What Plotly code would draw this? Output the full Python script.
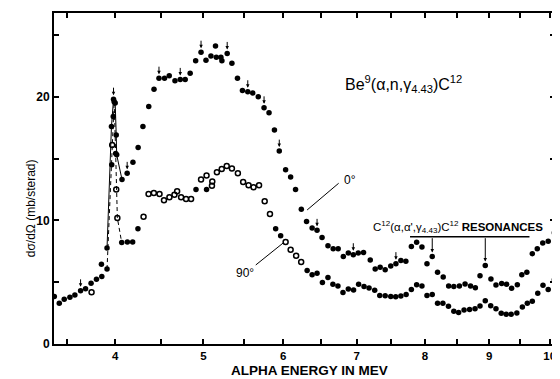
import numpy as np
import plotly.graph_objects as go

# ---------------- data (alpha energy in MeV, cross section in mb/sterad) ----------------
# 0 degree series (filled circles)
e0 = [3.375, 3.424, 3.473, 3.530, 3.580, 3.638, 3.689, 3.746, 3.802, 3.854,
      3.913, 3.960, 3.982, 4.000, 4.011, 4.016, 4.073, 4.129, 4.192, 4.249,
      4.302, 4.367, 4.426, 4.482, 4.545, 4.599, 4.665, 4.726, 4.784, 4.842,
      4.907, 4.971, 5.030, 5.090, 5.145, 5.155, 5.211, 5.223, 5.288, 5.346,
      5.415, 5.477, 5.544, 5.607, 5.677, 5.751, 5.815, 5.885, 5.948, 6.031,
      6.097, 6.162, 6.239, 6.309, 6.384, 6.451, 6.519, 6.600, 6.672, 6.741,
      6.813, 6.883, 6.953, 7.023, 7.098, 7.194, 7.265, 7.337, 7.410, 7.491,
      7.567, 7.640, 7.714, 7.796, 7.875, 7.955, 8.031, 8.111, 8.192, 8.279,
      8.363, 8.443, 8.530, 8.619, 8.705, 8.781, 8.855, 8.939, 9.030, 9.111,
      9.203, 9.283, 9.365, 9.459, 9.533, 9.616, 9.707, 9.790, 9.882, 9.974,
      10.078]
v0 = [3.85, 3.30, 3.62, 3.79, 3.97, 4.30, 4.46, 4.92, 5.24, 6.45,
      7.76, 17.6, 19.8, 19.5, 16.9, 15.3, 13.3, 13.8, 14.7, 15.9,
      17.6, 19.2, 20.6, 21.5, 21.5, 21.7, 21.3, 21.4, 21.4, 21.9,
      22.9, 23.6, 22.95, 23.3, 24.1, 23.2, 23.2, 22.9, 23.5, 22.7,
      21.5, 20.5, 20.4, 20.3, 20.0, 19.1, 18.7, 17.3, 15.6, 14.1,
      13.5, 12.5, 10.9, 9.9, 9.38, 9.19, 8.62, 7.95, 7.7, 7.7,
      7.08, 7.36, 7.22, 7.36, 7.40, 6.8, 6.06, 6.2, 6.0, 6.3,
      6.5, 6.75, 6.7, 7.89, 8.22, 7.84, 6.49, 7.08, 5.81, 5.41,
      4.70, 4.65, 4.7, 4.85, 4.7, 4.55, 5.51, 6.35, 5.25, 4.78,
      4.9, 4.84, 4.5, 4.8, 5.6, 5.8, 7.3, 7.7, 8.17, 8.3,
      9.0]

# 90 degree series, filled-circle points
e90f = [3.858, 3.913, 3.963, 3.979, 3.989, 4.005, 4.070, 4.131, 4.189, 4.247,
        4.911, 5.037, 5.901, 5.966, 6.317, 6.384, 6.451, 6.524, 6.600, 6.668,
        6.738, 6.808, 6.883, 6.957, 7.028, 7.105, 7.177, 7.258, 7.331, 7.410,
        7.491, 7.564, 7.640, 7.718, 7.796, 7.875, 7.955, 8.031, 8.111, 8.192,
        8.274, 8.360, 8.443, 8.518, 8.603, 8.690, 8.776, 8.855, 8.939, 9.026,
        9.111, 9.196, 9.277, 9.358, 9.451, 9.542, 9.624, 9.707, 9.798, 9.886,
        9.974, 10.078]
v90f = [5.46, 6.06, 14.5, 18.4, 19.6, 15.4, 8.2, 8.25, 8.25, 9.33,
        12.49, 12.49, 9.33, 8.76, 5.94, 5.6, 5.73, 4.97, 5.38, 4.84,
        4.70, 4.16, 4.45, 4.36, 4.84, 4.65, 4.52, 4.35, 3.92, 3.90,
        3.85, 3.83, 3.88, 4.0, 4.4, 4.8, 4.7, 3.92, 4.0, 3.3,
        3.3, 3.05, 2.65, 2.55, 2.75, 2.8, 2.85, 3.07, 3.5, 3.1,
        2.85, 2.48, 2.4, 2.4, 2.5, 3.0, 3.3, 3.45, 4.1, 4.76,
        4.4, 5.2]

# 90 degree series, open-circle points
e90o = [3.751, 3.968, 4.011, 4.023, 4.309, 4.365, 4.424, 4.488, 4.539, 4.601,
        4.659, 4.690, 4.736, 4.794, 4.853, 4.971, 5.037, 5.102, 5.106, 5.162,
        5.221, 5.282, 5.346, 5.420, 5.486, 5.554, 5.617, 5.687, 5.759, 5.827,
        6.031, 6.097, 6.170, 6.237]
v90o = [4.18, 16.1, 12.5, 10.2, 10.3, 12.14, 12.22, 12.14, 11.62, 11.86,
        12.08, 12.35, 11.86, 11.73, 11.73, 13.3, 13.62, 12.8, 13.15, 13.9,
        14.16, 14.4, 14.2, 13.8, 13.1, 12.84, 12.68, 12.84, 11.54, 10.52,
        8.25, 7.62, 7.14, 6.63]

# small arrows marking 0-degree points
arrow_e0 = [3.638, 3.982, 4.129, 4.482, 4.726, 4.971, 5.288, 5.544, 5.751,
            5.948, 6.451, 6.953, 7.567]
# C12(a,a',g4.43)C12 resonances marked on 0-degree curve
res_e = [7.875, 8.111, 8.939]

x_ticks = [3.5, 4, 4.5, 5, 5.5, 6, 6.5, 7, 7.5, 8, 8.5, 9, 9.5, 10]
x_ticklabels = ["", "4", "", "5", "", "6", "", "7", "", "8", "", "9", "", "10"]
y_ticks = [0, 5, 10, 15, 20, 25]
y_ticklabels = ["0", "", "10", "", "20", ""]


def X(e):
    """energy axis of the original is linear in sqrt(E)"""
    return np.sqrt(np.asarray(e, dtype=float))


lookup0 = dict(zip(e0, v0))

fig = go.Figure()

# lines through the 4 MeV resonance
pk0 = [(e, v) for e, v in zip(e0, v0) if 3.90 <= e <= 4.08]
fig.add_trace(go.Scatter(x=X([p[0] for p in pk0]), y=[p[1] for p in pk0],
                         mode="lines", line=dict(color="black", width=1),
                         hoverinfo="skip"))
pk90 = sorted([(e, v) for e, v in list(zip(e90f, v90f)) + list(zip(e90o, v90o))
               if 3.90 <= e <= 4.075])
fig.add_trace(go.Scatter(x=X([p[0] for p in pk90]), y=[p[1] for p in pk90],
                         mode="lines", line=dict(color="black", width=1, dash="4px,3px"),
                         hoverinfo="skip"))

fig.add_trace(go.Scatter(x=X(e0), y=v0, mode="markers", name="0°",
                         marker=dict(color="black", size=5.5)))
fig.add_trace(go.Scatter(x=X(e90f), y=v90f, mode="markers", name="90°",
                         marker=dict(color="black", size=5.5)))
fig.add_trace(go.Scatter(x=X(e90o), y=v90o, mode="markers", name="90° (open)",
                         marker=dict(color="black", size=5, symbol="circle-open",
                                     line=dict(width=1.5, color="black"))))

# arrows above marked points
for e in arrow_e0:
    fig.add_annotation(x=float(X(e)), y=lookup0[e], xref="x", yref="y",
                       ax=0, ay=-13, text="", showarrow=True, arrowhead=2,
                       arrowsize=0.7, arrowwidth=1, arrowcolor="black", standoff=4)

# resonance bracket
res_line_y = 8.68
fig.add_shape(type="line", xref="x", yref="y", x0=float(X(7.776)), x1=float(X(9.660)),
              y0=res_line_y, y1=res_line_y, line=dict(color="black", width=1.5))
for e in res_e:
    fig.add_annotation(x=float(X(e)), y=lookup0[e], xref="x", yref="y",
                       axref="x", ayref="y", ax=float(X(e)), ay=res_line_y,
                       text="", showarrow=True, arrowhead=2, arrowsize=0.7,
                       arrowwidth=1, arrowcolor="black", standoff=4)
fig.add_annotation(x=float(X(8.51)), y=9.45, xref="x", yref="y", showarrow=False,
                   text="C<sup>12</sup>(α,α',γ<sub>4.43</sub>)C<sup>12</sup> <b>RESONANCES</b>",
                   font=dict(size=11.5, color="black"))

# reaction label
fig.add_annotation(x=float(X(7.677)), y=21.0, xref="x", yref="y", showarrow=False,
                   text="Be<sup>9</sup>(α,n,γ<sub>4.43</sub>)C<sup>12</sup>",
                   font=dict(size=16, color="black"))

# curve labels with leader lines
fig.add_shape(type="line", xref="x", yref="y", x0=float(X(6.748)), y0=13.0,
              x1=float(X(6.317)), y1=10.84, line=dict(color="black", width=1))
fig.add_annotation(x=float(X(6.80)), y=13.3, xref="x", yref="y", showarrow=False,
                   text="0°", font=dict(size=12, color="black"), xanchor="left")
fig.add_shape(type="line", xref="x", yref="y", x0=float(X(5.645)), y0=6.39,
              x1=float(X(6.009)), y1=8.22, line=dict(color="black", width=1))
fig.add_annotation(x=float(X(5.51)), y=5.75, xref="x", yref="y", showarrow=False,
                   text="90°", font=dict(size=12, color="black"))

# axis titles
fig.add_annotation(x=-0.064, y=0.41, xref="paper", yref="paper", showarrow=False,
                   text="dσ/dΩ (mb/sterad)", textangle=-90,
                   font=dict(size=12, color="black"))
fig.add_annotation(x=0.509, y=-0.080, xref="paper", yref="paper", showarrow=False,
                   yanchor="middle", text="<b>ALPHA ENERGY IN MEV</b>",
                   font=dict(size=13.5, color="black"))

# the page body adds an 8 px offset; size the figure so the plot area lands where the
# original frame is (x 54..557, y 13..344 in the 560x379 window)
fig.update_layout(width=552, height=371, margin=dict(l=46, r=3, t=5, b=35),
                  plot_bgcolor="white", paper_bgcolor="white", showlegend=False,
                  font=dict(family="Liberation Sans, Arial, sans-serif", color="black"))
fig.update_xaxes(range=[float(X(3.372)), float(X(10.089))],
                 tickmode="array", tickvals=X(x_ticks), ticktext=x_ticklabels,
                 ticks="inside", ticklen=5, tickwidth=1.5, tickcolor="black",
                 showline=True, linewidth=2, linecolor="black", mirror="ticks",
                 showgrid=False, zeroline=False,
                 tickfont=dict(size=11.5, weight="bold", color="black"))
fig.update_yaxes(range=[0, 26.77], tickmode="array", tickvals=y_ticks,
                 ticktext=y_ticklabels, ticks="inside", ticklen=5, tickwidth=1.5,
                 tickcolor="black", showline=True, linewidth=2, linecolor="black",
                 mirror="ticks", showgrid=False, zeroline=False,
                 tickfont=dict(size=12, weight="bold", color="black"))

fig.write_html("out.html")
